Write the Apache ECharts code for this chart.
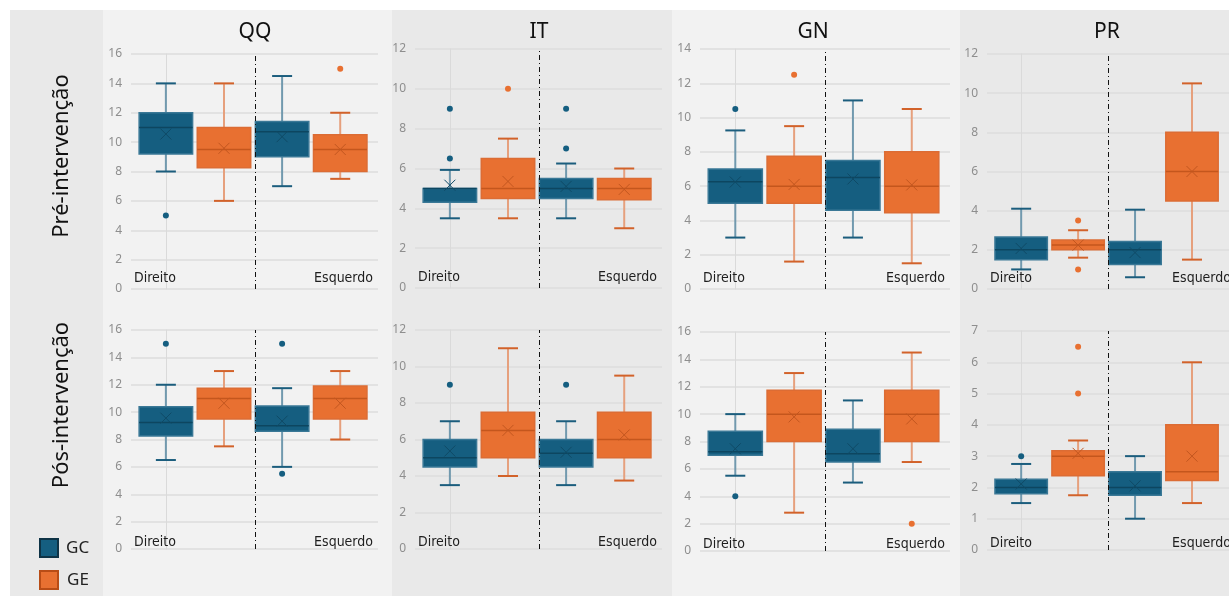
<!DOCTYPE html>
<html>
<head>
<meta charset="utf-8">
<title>QQ / IT / GN / PR</title>
<script src="https://cdn.jsdelivr.net/npm/echarts@6.0.0/dist/echarts.min.js"></script>
<style>
  html, body { margin: 0; padding: 0; background: #fff; }
  #chart { width: 1229px; height: 596px; }
</style>
</head>
<body>
<div id="chart"></div>
<script>
// categorias
const testes = ['QQ', 'IT', 'GN', 'PR'];
const fases = ['Pré-intervenção', 'Pós-intervenção'];
const grupos = ['GC', 'GE'];
const lados = ['Direito', 'Esquerdo'];

// caixas: [min, Q1, mediana, Q3, max] — ordem GC-Dir, GE-Dir, GC-Esq, GE-Esq
const preQQ = [[8, 9.2, 11, 12, 14], [6, 8.25, 9.5, 11, 14], [7, 9, 10.7, 11.4, 14.5], [7.5, 8, 9.5, 10.5, 12]];
const preIT = [[3.5, 4.3, 5, 5, 5.93], [3.5, 4.5, 5, 6.5, 7.5], [3.5, 4.5, 5, 5.5, 6.25], [3, 4.43, 5, 5.5, 6]];
const preGN = [[3, 5, 6.25, 7, 9.25], [1.6, 5, 6, 7.75, 9.5], [3, 4.6, 6.5, 7.5, 11], [1.5, 4.45, 6, 8, 10.5]];
const prePR = [[1, 1.5, 2, 2.66, 4.1], [1.6, 2, 2.25, 2.5, 3], [0.6, 1.25, 2, 2.43, 4.05], [1.5, 4.5, 6, 8, 10.5]];
const posQQ = [[6.5, 8.25, 9.25, 10.4, 12], [7.5, 9.5, 11, 11.75, 13], [6, 8.6, 9, 10.45, 11.75], [8, 9.5, 11, 11.9, 13]];
const posIT = [[3.5, 4.5, 5, 6, 7], [4, 5, 6.5, 7.5, 11], [3.5, 4.5, 5.25, 6, 7], [3.75, 5, 6, 7.5, 9.5]];
const posGN = [[5.5, 7, 7.25, 8.75, 10], [2.8, 8, 10, 11.75, 13], [5, 6.5, 7.1, 8.9, 11], [6.5, 8, 10, 11.75, 14.5]];
const posPR = [[1.5, 1.8, 2, 2.26, 2.75], [1.75, 2.37, 3, 3.17, 3.5], [1, 1.75, 2, 2.5, 3], [1.5, 2.22, 2.5, 4, 6]];

// médias (x)
const preQQMedia = [10.55, 9.58, 10.37, 9.5];
const preITMedia = [5.16, 5.35, 5.1, 4.95];
const preGNMedia = [6.24, 6.1, 6.42, 6.07];
const prePRMedia = [2.07, 2.24, 1.86, 6];
const posQQMedia = [9.56, 10.65, 9.34, 10.65];
const posITMedia = [5.37, 6.5, 5.3, 6.25];
const posGNMedia = [7.47, 9.8, 7.47, 9.65];
const posPRMedia = [2.11, 3.09, 2.05, 3];

// outliers: [caixa, valor]
const preQQOut = [[0, 5], [3, 15]];
const preITOut = [[0, 9], [0, 6.5], [1, 10], [2, 9], [2, 7]];
const preGNOut = [[0, 10.5], [1, 12.5]];
const prePROut = [[1, 3.5], [1, 1]];
const posQQOut = [[0, 15], [2, 15], [2, 5.5]];
const posITOut = [[0, 9], [2, 9]];
const posGNOut = [[0, 4], [3, 2]];
const posPROut = [[0, 3], [1, 6.5], [1, 5]];

// escalas do eixo y
const yMaxPre = [16, 12, 14, 12];
const yMaxPos = [16, 12, 16, 7];
const yStepPos = [2, 2, 2, 1];

const linhas = [
  [[preQQ, preQQMedia, preQQOut], [preIT, preITMedia, preITOut], [preGN, preGNMedia, preGNOut], [prePR, prePRMedia, prePROut]],
  [[posQQ, posQQMedia, posQQOut], [posIT, posITMedia, posITOut], [posGN, posGNMedia, posGNOut], [posPR, posPRMedia, posPROut]]
];

// layout
const colLeft = [131, 415, 700, 987];
const colWidth = [247, 247, 250, 249];
const rowTop = [[54, 49, 49, 54], [330, 330, 332, 331]];
const rowBottom = [[289, 288, 289, 289], [549, 549, 551, 550]];
const textOff = [11, 7];

const cor = [
  {fill: '#155e80', border: '#3a7896', whisker: '#7199ae', cap: '#1b5d7d', median: '#0d4660', mean: '#0f4a66'},
  {fill: '#e87031', border: '#dc6c34', whisker: '#e6a07d', cap: '#d2622a', median: '#c4561d', mean: '#c2561f'}
];

function drawBox(params, api) {
  const k = api.value(0);
  const c = cor[k % 2];
  const pt = v => api.coord([k, v]);
  const lo = pt(api.value(1)), q1 = pt(api.value(2)), md = pt(api.value(3));
  const q3 = pt(api.value(4)), hi = pt(api.value(5)), mn = pt(api.value(6));
  const x = md[0];
  const hw = api.size([0.92, 0])[0] / 2;
  const cw = 10, mw = 5.5;
  const line = (x1, y1, x2, y2, stroke, w) => ({type: 'line', shape: {x1, y1, x2, y2}, style: {stroke, lineWidth: w}});
  return {
    type: 'group',
    children: [
      line(x, hi[1], x, q3[1], c.whisker, 2),
      line(x, q1[1], x, lo[1], c.whisker, 2),
      line(x - cw, hi[1], x + cw, hi[1], c.cap, 2),
      line(x - cw, lo[1], x + cw, lo[1], c.cap, 2),
      {type: 'rect', shape: {x: x - hw, y: q3[1], width: 2 * hw, height: q1[1] - q3[1]},
        style: {fill: c.fill, stroke: c.border, lineWidth: 1.5}},
      line(x - hw, md[1], x + hw, md[1], c.median, 1.5),
      line(x - mw, mn[1] - mw, x + mw, mn[1] + mw, c.mean, 1),
      line(x - mw, mn[1] + mw, x + mw, mn[1] - mw, c.mean, 1)
    ]
  };
}

const grid = [], xAxis = [], yAxis = [], series = [];
const graphic = [
  {type: 'rect', shape: {x: 10, y: 10, width: 93, height: 586}, style: {fill: '#e9e9e9'}, z: -100, silent: true},
  {type: 'rect', shape: {x: 103, y: 10, width: 289, height: 586}, style: {fill: '#f2f2f2'}, z: -100, silent: true},
  {type: 'rect', shape: {x: 392, y: 10, width: 280, height: 586}, style: {fill: '#e9e9e9'}, z: -100, silent: true},
  {type: 'rect', shape: {x: 672, y: 10, width: 288, height: 586}, style: {fill: '#f2f2f2'}, z: -100, silent: true},
  {type: 'rect', shape: {x: 960, y: 10, width: 269, height: 586}, style: {fill: '#e9e9e9'}, z: -100, silent: true}
];

linhas.forEach((linha, r) => {
  linha.forEach(([caixas, medias, outs], c) => {
    const i = grid.length;
    const top = rowTop[r][c], bottom = rowBottom[r][c];
    grid.push({left: colLeft[c], top: top, width: colWidth[c], height: bottom - top});
    xAxis.push({gridIndex: i, type: 'value', min: -0.6, max: 3.65, show: false});
    yAxis.push({
      gridIndex: i, type: 'value', min: 0,
      max: r === 0 ? yMaxPre[c] : yMaxPos[c],
      interval: r === 0 ? 2 : yStepPos[c],
      axisLine: {show: true, lineStyle: {color: '#dadada', width: 1}},
      axisTick: {show: false},
      axisLabel: {color: '#8e8e8e', fontSize: 12, margin: 9, fontFamily: 'Noto Sans'},
      splitLine: {lineStyle: {color: '#dcdcdc', width: 1.5}}
    });
    series.push({
      type: 'custom', xAxisIndex: i, yAxisIndex: i,
      renderItem: drawBox,
      data: caixas.map((b, k) => [k].concat(b, [medias[k]])),
      encode: {x: 0, y: [1, 2, 3, 4, 5, 6]},
      z: 3
    });
    series.push({
      type: 'scatter', xAxisIndex: i, yAxisIndex: i,
      data: outs,
      symbolSize: 6,
      itemStyle: {color: p => cor[p.value[0] % 2].fill, opacity: 1},
      z: 4,
      markLine: {
        silent: true, symbol: ['none', 'none'], label: {show: false},
        lineStyle: {color: '#111', width: 1, type: [5, 3, 1, 3]},
        data: [{xAxis: 1.53}]
      }
    });
    const yText = bottom - textOff[r];
    graphic.push({type: 'text', x: colLeft[c] + 3, y: yText, z: 100, silent: true,
      style: {text: lados[0], font: "14px 'DejaVu Sans Condensed', 'Liberation Sans Narrow', sans-serif", fill: '#1e1e1e', textAlign: 'left', textVerticalAlign: 'middle'}});
    graphic.push({type: 'text', x: colLeft[c] + colWidth[c] - 5, y: yText, z: 100, silent: true,
      style: {text: lados[1], font: "14px 'DejaVu Sans Condensed', 'Liberation Sans Narrow', sans-serif", fill: '#1e1e1e', textAlign: 'right', textVerticalAlign: 'middle'}});
  });
});

// títulos das colunas
const tituloX = [255, 539, 813, 1107];
testes.forEach((t, c) => {
  graphic.push({type: 'text', x: tituloX[c], y: 32, z: 100, silent: true,
    style: {text: t, font: "21px 'Noto Sans', sans-serif", fill: '#111', textAlign: 'center', textVerticalAlign: 'middle'}});
});

// rótulos das linhas
const faseY = [156, 405];
fases.forEach((f, r) => {
  graphic.push({type: 'text', x: 62, y: faseY[r], rotation: Math.PI / 2, z: 100, silent: true,
    style: {text: f, font: "22px 'Noto Sans', sans-serif", fill: '#111', textAlign: 'center', textVerticalAlign: 'middle'}});
});

// legenda
const legY = [539, 571];
const legBorda = ['#0e3346', '#b84c16'];
grupos.forEach((g, k) => {
  graphic.push({type: 'rect', shape: {x: 40, y: legY[k], width: 18, height: 18}, z: 100, silent: true,
    style: {fill: cor[k].fill, stroke: legBorda[k], lineWidth: 2}});
  graphic.push({type: 'text', x: 66 + k, y: legY[k] + 9, z: 100, silent: true,
    style: {text: g, font: "17px 'Noto Sans', sans-serif", fill: '#222', textAlign: 'left', textVerticalAlign: 'middle'}});
});

const chart = echarts.init(document.getElementById('chart'));
chart.setOption({
  animation: false,
  backgroundColor: '#fff',
  grid: grid,
  xAxis: xAxis,
  yAxis: yAxis,
  series: series,
  graphic: graphic
});
</script>
</body>
</html>
